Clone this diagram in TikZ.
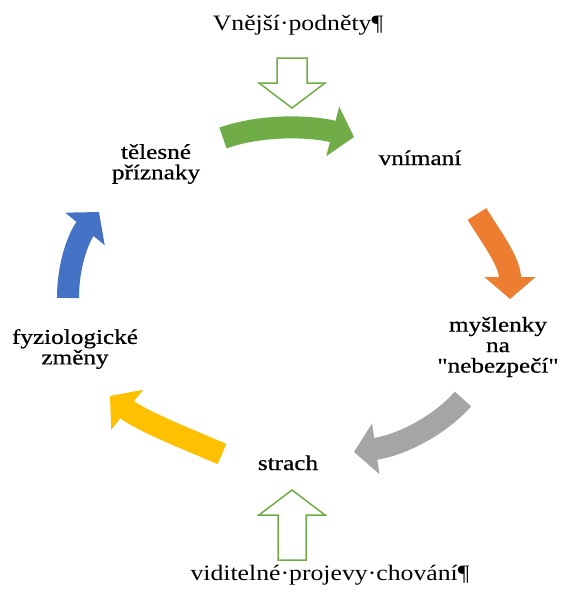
\documentclass[tikz,border=0pt]{standalone}
\usepackage{fontspec}
\setmainfont{Liberation Serif}[FakeStretch=1.17]
\newfontfamily\lblfont{Liberation Serif}[FakeStretch=1.2,FakeBold=0.6]
\usetikzlibrary{arrows.meta}
\definecolor{cgreen}{HTML}{70AD47}
\definecolor{corange}{HTML}{ED7D31}
\definecolor{cgray}{HTML}{A5A5A5}
\definecolor{cyellow}{HTML}{FFC000}
\definecolor{cblue}{HTML}{4472C4}
\begin{document}
\begin{tikzpicture}[x=1pt,y=-1pt,
  lbl/.style={font=\lblfont\fontsize{21}{20.5}\selectfont, align=center, inner sep=0pt, text=black},
  outer/.style={font=\fontsize{22}{26}\selectfont, inner sep=0pt, anchor=base, text=black},
  cyc/.style={line width=22pt, -{Triangle[length=22pt,width=50pt]}},
  hollow/.style={draw=cgreen, line width=1.5pt, fill=white, line join=miter}
]
\useasboundingbox (0,0) rectangle (564,592);

% texts
\node[outer] (ext) at (298,30) {Vnější·podněty¶};
\node[outer] (vis) at (330,580) {viditelné·projevy·chování¶};
\node[lbl, anchor=base] (fear) at (288,470) {strach};
\node[lbl, anchor=base] (perc) at (420,165) {vnímaní};
\node[lbl] (body) at (156,164) {tělesné\\příznaky};
\node[lbl] (phys) at (75,349) {fyziologické\\změny};
\node[lbl] (thou) at (498,347) {myšlenky\\na\\"nebezpečí"};

% hollow arrows
\draw[hollow] (277,58) -- (307,58) -- (307,83) -- (325,83) -- (292,108)
  -- (259,83) -- (277,83) -- cycle;
\draw[hollow] (278,560) -- (306,560) -- (306,515) -- (325,515) -- (292,490)
  -- (259,515) -- (278,515) -- cycle;

% cycle arrow end points
\coordinate (g1) at (223,138);  \coordinate (g2) at (354,137);
\coordinate (o1) at (477,214);  \coordinate (o2) at (510,299);
\coordinate (r1) at (463,399);  \coordinate (r2) at (354,452);
\coordinate (y1) at (222,454);  \coordinate (y2) at (110,396);
\coordinate (b1) at (68,298);   \coordinate (b2) at (99,212);

\draw[cyc, cgreen]  (g1) .. controls (262,124) and (312,126) .. (g2);
\draw[cyc, corange] (o1) .. controls (493,240) and (510,262) .. (o2);
\draw[cyc, cgray]   (r1) .. controls (440,425) and (402,445) .. (r2);
\draw[cyc, cyellow] (y1) .. controls (182,437) and (140,420) .. (y2);
\draw[cyc, cblue]   (b1) .. controls (68,262) and (80,235) .. (b2);
\end{tikzpicture}
\end{document}
